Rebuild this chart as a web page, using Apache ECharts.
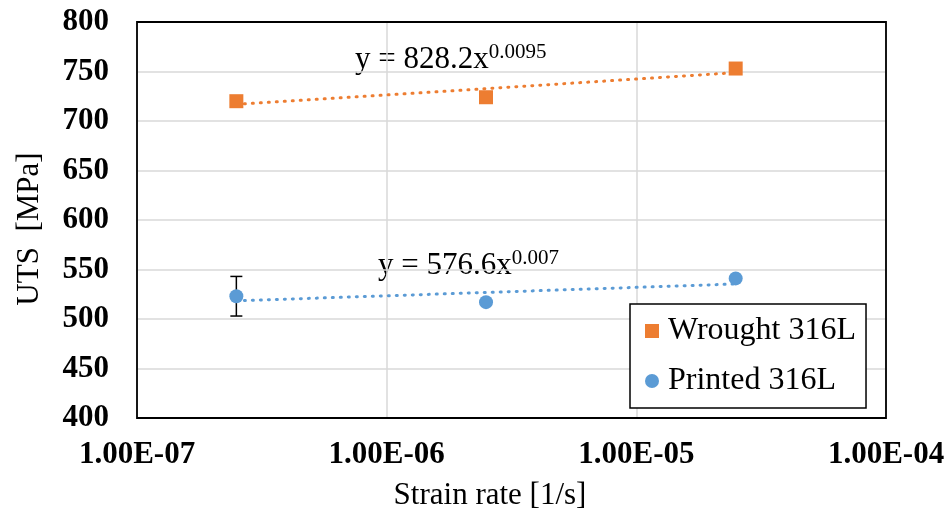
<!DOCTYPE html>
<html>
<head>
<meta charset="utf-8">
<script src="https://cdn.jsdelivr.net/npm/echarts@6/dist/echarts.min.js"></script>
<style>
  html, body { margin: 0; padding: 0; background: #ffffff; }
  #chart { width: 948px; height: 513px; }
</style>
</head>
<body>
<div id="chart"></div>
<script>
// Strain rates tested [1/s]
const strainRates = [2.5e-7, 2.5e-6, 2.5e-5];
// Ultimate tensile strength [MPa]
const wroughtUTS = [720, 724, 753];
const printedUTS = [523, 517, 541];
// Scatter (± MPa) shown on the slowest printed test
const printedErr = [20, 0, 0];
// Power-law fits  y = a * x^b
const wroughtFit = [828.2, 0.0095];
const printedFit = [576.6, 0.007];
// Axis tick labels
const xTickLabels = ['1.00E-07', '1.00E-06', '1.00E-05', '1.00E-04'];
const yTicks = [400, 450, 500, 550, 600, 650, 700, 750, 800];

const ORANGE = '#ED7D31';
const BLUE = '#5B9BD5';
const SERIF = 'Liberation Serif, Times New Roman, serif';

function fitCurve(coef, xs) {
  const lo = Math.log10(xs[0]), hi = Math.log10(xs[xs.length - 1]);
  const pts = [];
  const n = 24;
  for (let i = 0; i <= n; i++) {
    const x = Math.pow(10, lo + (hi - lo) * i / n);
    pts.push([x, coef[0] * Math.pow(x, coef[1])]);
  }
  return pts;
}

const errData = strainRates
  .map((x, i) => [x, printedUTS[i] - printedErr[i], printedUTS[i] + printedErr[i]])
  .filter((d, i) => printedErr[i] > 0);

function eqText(coef) {
  return '{m|y = ' + coef[0].toFixed(1) + 'x}{s|' + String(coef[1]) + '}';
}
const eqRich = {
  m: { fontFamily: SERIF, fontSize: 31, fill: '#000000', color: '#000000' },
  s: { fontFamily: SERIF, fontSize: 21, fill: '#000000', color: '#000000', padding: [0, 0, 16, 0] }
};

const chart = echarts.init(document.getElementById('chart'), null, { renderer: 'canvas' });

const dotted = { type: [1, 7], cap: 'round', width: 3 };

chart.setOption({
  animation: false,
  backgroundColor: '#ffffff',
  textStyle: { fontFamily: SERIF },
  grid: { left: 137, right: 62, top: 22, bottom: 95, show: true, borderColor: '#000000', borderWidth: 1.8, z: 3 },
  xAxis: {
    type: 'log',
    logBase: 10,
    min: 1e-7,
    max: 1e-4,
    axisLine: { show: false },
    axisTick: { show: false },
    splitLine: { show: true, lineStyle: { color: '#d9d9d9', width: 1.5 } },
    axisLabel: {
      margin: 21,
      fontFamily: SERIF,
      fontWeight: 'bold',
      fontSize: 31,
      color: '#000000',
      formatter: function (v) {
        const k = Math.round(Math.log10(v)) + 7;
        return xTickLabels[k] || '';
      }
    }
  },
  yAxis: {
    type: 'value',
    min: yTicks[0],
    max: yTicks[yTicks.length - 1],
    interval: 50,
    axisLine: { show: false },
    axisTick: { show: false },
    splitLine: { show: true, lineStyle: { color: '#d9d9d9', width: 1.5 } },
    axisLabel: {
      margin: 28,
      fontFamily: SERIF,
      fontWeight: 'bold',
      fontSize: 31,
      color: '#000000'
    }
  },
  legend: {
    orient: 'vertical',
    left: 630,
    top: 304,
    padding: [11, 10, 11, 15],
    itemGap: 18,
    itemWidth: 14,
    itemHeight: 14,
    backgroundColor: '#ffffff',
    borderColor: '#000000',
    borderWidth: 1.5,
    borderRadius: 0,
    textStyle: { fontFamily: SERIF, fontSize: 32, color: '#000000', lineHeight: 32, padding: [0, 0, 0, 4] },
    data: [
      { name: 'Wrought 316L', icon: 'rect' },
      { name: 'Printed 316L', icon: 'circle' }
    ]
  },
  graphic: [
    {
      type: 'text', x: 30, y: 229, rotation: Math.PI / 2,
      style: { text: 'UTS  [MPa]', fontFamily: SERIF, fontSize: 31, fill: '#000000', align: 'center', verticalAlign: 'middle' }
    },
    {
      type: 'text', x: 490, y: 496,
      style: { text: 'Strain rate [1/s]', fontFamily: SERIF, fontSize: 31, fill: '#000000', align: 'center', verticalAlign: 'middle' }
    },
    { type: 'text', x: 355, y: 60, style: { text: eqText(wroughtFit), rich: eqRich, verticalAlign: 'middle' } },
    { type: 'text', x: 378, y: 266, style: { text: eqText(printedFit), rich: eqRich, verticalAlign: 'middle' } }
  ],
  series: [
    {
      name: 'Wrought fit', type: 'line', data: fitCurve(wroughtFit, strainRates),
      showSymbol: false, symbol: 'none', silent: true, z: 2,
      lineStyle: Object.assign({ color: ORANGE }, dotted)
    },
    {
      name: 'Printed fit', type: 'line', data: fitCurve(printedFit, strainRates),
      showSymbol: false, symbol: 'none', silent: true, z: 2,
      lineStyle: Object.assign({ color: BLUE }, dotted)
    },
    {
      name: 'Printed error', type: 'custom', z: 4,
      data: errData,
      renderItem: function (params, api) {
        const x = api.value(0);
        const lo = api.coord([x, api.value(1)]);
        const hi = api.coord([x, api.value(2)]);
        const w = 6;
        const st = { stroke: '#000000', lineWidth: 1.5, fill: 'none' };
        return {
          type: 'group',
          children: [
            { type: 'line', shape: { x1: lo[0], y1: lo[1], x2: hi[0], y2: hi[1] }, style: st },
            { type: 'line', shape: { x1: lo[0] - w, y1: lo[1], x2: lo[0] + w, y2: lo[1] }, style: st },
            { type: 'line', shape: { x1: hi[0] - w, y1: hi[1], x2: hi[0] + w, y2: hi[1] }, style: st }
          ]
        };
      }
    },
    {
      name: 'Wrought 316L', type: 'scatter', z: 5,
      symbol: 'rect', symbolSize: 14,
      itemStyle: { color: ORANGE, opacity: 1 },
      data: strainRates.map((x, i) => [x, wroughtUTS[i]])
    },
    {
      name: 'Printed 316L', type: 'scatter', z: 5,
      symbol: 'circle', symbolSize: 14,
      itemStyle: { color: BLUE, opacity: 1 },
      data: strainRates.map((x, i) => [x, printedUTS[i]])
    }
  ]
});
</script>
</body>
</html>
